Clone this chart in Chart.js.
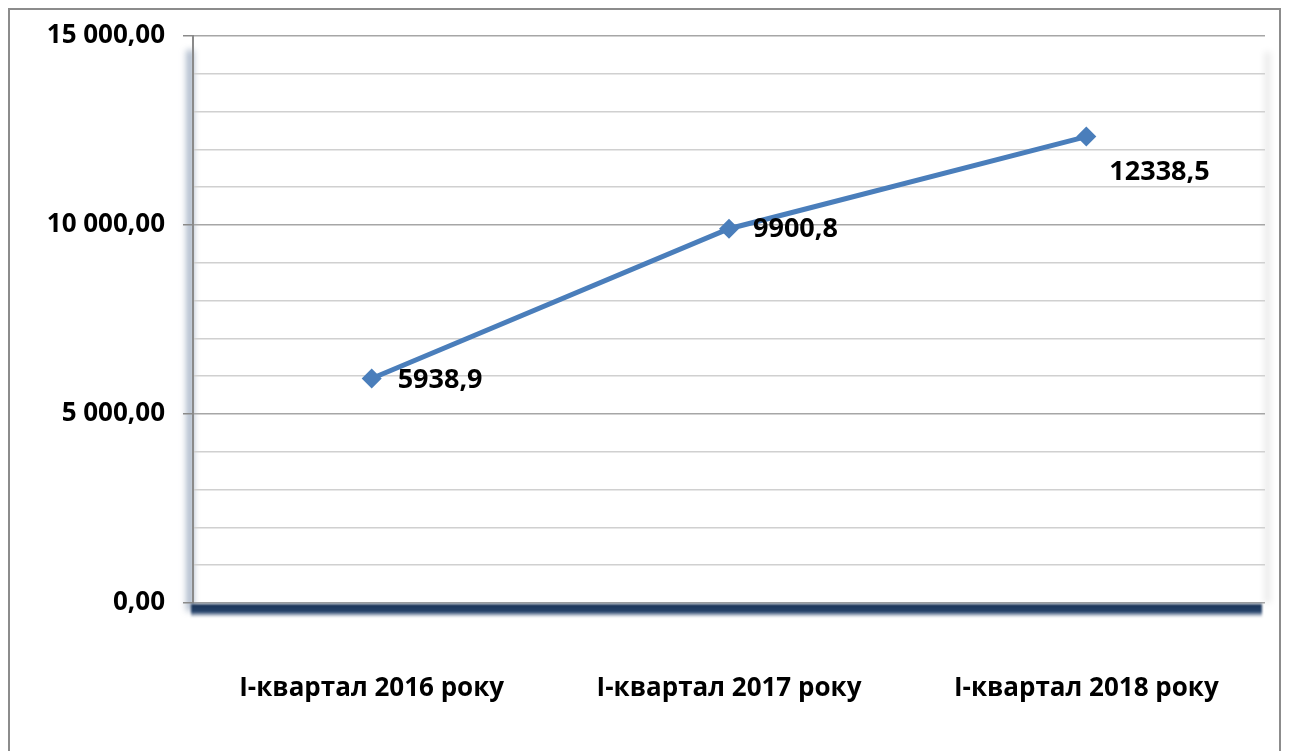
<!DOCTYPE html>
<html>
<head>
<meta charset="utf-8">
<script src="https://cdn.jsdelivr.net/npm/chart.js@4.4.1/dist/chart.umd.min.js"></script>
<style>
  html, body { margin: 0; padding: 0; background: #fff; }
  canvas { display: block; }
</style>
</head>
<body>
<canvas id="chart" width="1289" height="751"></canvas>
<script>
// data
const categories = ['І-квартал 2016 року', 'І-квартал 2017 року', 'І-квартал 2018 року'];
const values = [5938.9, 9900.8, 12338.5];
const pointLabels = ['5938,9', '9900,8', '12338,5'];
const yTicks = [0, 5000, 10000, 15000];
const yTickLabels = ['0,00', '5 000,00', '10 000,00', '15 000,00'];

const lineBlue = '#4a7ebb';

// white page, outer frame and the 3D-ish shadows of the plot area
const framePlugin = {
  id: 'frame',
  beforeDraw(chart) {
    const { ctx, chartArea: a } = chart;
    ctx.save();
    ctx.fillStyle = '#fff';
    ctx.fillRect(0, 0, chart.width, chart.height);
    ctx.strokeStyle = '#8c8c8c';
    ctx.lineWidth = 2;
    ctx.strokeRect(9, 9, chart.width - 18, chart.height + 20);

    ctx.filter = 'blur(3px)';
    // right edge shadow
    ctx.fillStyle = 'rgba(0,0,0,0.10)';
    ctx.fillRect(a.right, a.top + 16, 5, a.bottom - a.top - 16);
    // y axis shadow
    const g = ctx.createLinearGradient(a.left - 9, 0, a.left, 0);
    g.addColorStop(0, 'rgba(90,115,150,0)');
    g.addColorStop(1, 'rgba(90,115,150,0.85)');
    ctx.fillStyle = g;
    ctx.fillRect(a.left - 9, a.top + 14, 9, a.bottom - a.top - 6);
    ctx.restore();
  },
  afterDraw(chart) {
    const { ctx, chartArea: a } = chart;
    ctx.save();
    ctx.filter = 'blur(1.2px)';
    const g = ctx.createLinearGradient(0, a.bottom + 1, 0, a.bottom + 15);
    g.addColorStop(0, '#1b3457');
    g.addColorStop(0.55, '#25426a');
    g.addColorStop(0.8, 'rgba(100,120,150,0.5)');
    g.addColorStop(1, 'rgba(255,255,255,0)');
    ctx.fillStyle = g;
    ctx.fillRect(a.left - 2, a.bottom + 1, a.right - a.left - 1, 14);
    ctx.restore();
  }
};

// value labels next to the points
const labelPlugin = {
  id: 'valueLabels',
  afterDatasetsDraw(chart, args, opts) {
    const { ctx } = chart;
    const meta = chart.getDatasetMeta(0);
    ctx.save();
    ctx.font = 'bold 27px "Open Sans"';
    ctx.fillStyle = '#000';
    ctx.textBaseline = 'middle';
    ctx.textAlign = 'left';
    meta.data.forEach((pt, i) => {
      const off = opts.offsets[i];
      ctx.fillText(pointLabels[i], pt.x + off[0], pt.y + off[1]);
    });
    ctx.restore();
  }
};

Chart.defaults.font.family = "'Open Sans', sans-serif";
Chart.defaults.font.size = 26;
Chart.defaults.font.weight = 'bold';
Chart.defaults.color = '#000';

const ctx = document.getElementById('chart').getContext('2d');
const chart = new Chart(ctx, {
    type: 'line',
    data: {
        labels: categories,
        datasets: [{
            data: values,
            borderColor: lineBlue,
            backgroundColor: lineBlue,
            borderWidth: 5,
            tension: 0,
            pointStyle: 'rectRot',
            pointRadius: 10,
            pointHoverRadius: 10,
            pointBorderWidth: 0
        }]
    },
    options: {
        responsive: false,
        animation: false,
        layout: { padding: { top: 36, right: 24, left: 0, bottom: 0 } },
        plugins: {
            legend: { display: false },
            tooltip: { enabled: false },
            valueLabels: { offsets: [[26, 2], [24, 1], [23, 36]] }
        },
        scales: {
            x: {
                offset: true,
                grid: { display: false },
                border: { display: false },
                ticks: { padding: 62, maxRotation: 0 },
                afterFit(s) { s.height = 148; }
            },
            y: {
                min: 0,
                max: 15000,
                border: { color: '#8a8a8a', width: 2 },
                grid: {
                    color: c => (c.tick && c.tick.value % 5000 === 0) ? '#a6a6a6' : '#d0d0d0',
                    tickColor: c => (c.tick && c.tick.value % 5000 === 0) ? '#8a8a8a' : 'rgba(0,0,0,0)',
                    tickLength: 10,
                    lineWidth: 1.5
                },
                ticks: {
                    stepSize: 1000,
                    autoSkip: false,
                    padding: 18,
                    callback: v => {
                        const i = yTicks.indexOf(v);
                        return i >= 0 ? yTickLabels[i] : '';
                    }
                },
                afterFit(s) { s.width = 193; }
            }
        }
    },
    plugins: [framePlugin, labelPlugin]
});
</script>
</body>
</html>
